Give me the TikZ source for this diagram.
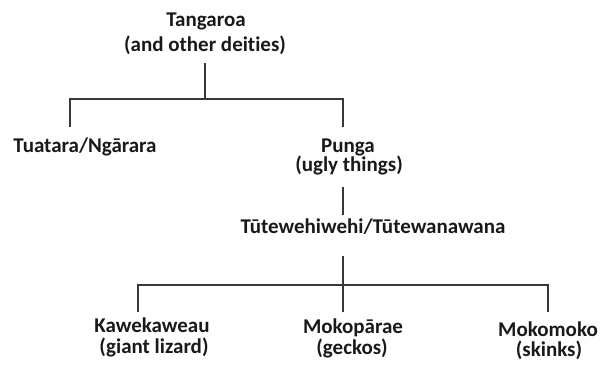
\documentclass[tikz,border=0pt]{standalone}
\usepackage{fontspec}
\setmainfont{Carlito}[RawFeature={-liga;-dlig}]
\begin{document}
\begin{tikzpicture}[x=1pt,y=-1pt,
  lbl/.style={font=\fontsize{21}{25}\selectfont\bfseries, text=black!90, inner sep=0pt, anchor=base},
  conn/.style={draw=black!78, line width=1.4pt}]
\useasboundingbox (0,0) rectangle (603,366);
% labels
\node[lbl] (tan1) at (206,27) {Tangaroa};
\node[lbl] (tan2) at (205,52) {(and other deities)};
\node[lbl] (tua)  at (85,153) {Tuatara/Ngārara};
\node[lbl] (pun1) at (348,153) {Punga};
\node[lbl] (pun2) at (349,172) {(ugly things)};
\node[lbl] (tut)  at (373,234) {Tūtewehiwehi/Tūtewanawana};
\node[lbl] (kaw1) at (152,333) {Kawekaweau};
\node[lbl] (kaw2) at (154,353) {(giant lizard)};
\node[lbl] (mkp1) at (353,334) {Mokopārae};
\node[lbl] (mkp2) at (352,355) {(geckos)};
\node[lbl] (mkm1) at (548,337) {Mokomoko};
\node[lbl] (mkm2) at (549,356) {(skinks)};
% connector end points
\coordinate (tanout) at (205,63);
\coordinate (j1) at (205,99);
\coordinate (tuain) at (70,127);
\coordinate (punin) at (343,127);
\coordinate (punout) at (343,187);
\coordinate (tutin) at (343,215);
\coordinate (tutout) at (343,256);
\coordinate (j2) at (343,285);
\coordinate (kawin) at (138,312);
\coordinate (mkpin) at (343,312);
\coordinate (mkmin) at (548,312);
% connectors
\draw[conn] (tanout) -- (j1);
\draw[conn] (tuain) |- (j1) -| (punin);
\draw[conn] (punout) -- (tutin);
\draw[conn] (tutout) -- (j2) -- (mkpin);
\draw[conn] (kawin) |- (j2) -| (mkmin);
\end{tikzpicture}
\end{document}
